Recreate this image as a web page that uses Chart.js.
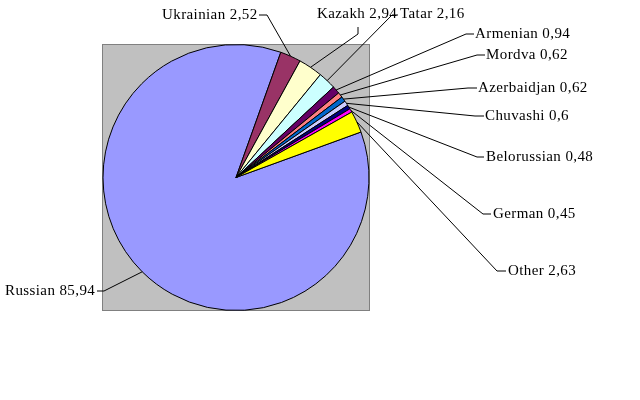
<!DOCTYPE html>
<html>
<head>
<meta charset="utf-8">
<script src="https://cdn.jsdelivr.net/npm/chart.js@4/dist/chart.umd.min.js"></script>
<style>
  html, body { margin: 0; padding: 0; background: #fff; }
  canvas { display: block; }
</style>
</head>
<body>
<canvas id="chart" width="640" height="400"></canvas>
<script>
// nationalities, % of population
const nations = ["Russian", "Ukrainian", "Kazakh", "Tatar", "Armenian", "Mordva",
  "Azerbaidjan", "Chuvashi", "Belorussian", "German", "Other"]
const shares = [85.94, 2.52, 2.94, 2.16, 0.94, 0.62, 0.62, 0.6, 0.48, 0.45, 2.63]
const sliceColors = ["#9999FF", "#993366", "#FFFFCC", "#CCFFFF", "#660066", "#FF8080",
  "#0066CC", "#CCCCFF", "#000080", "#FF00FF", "#FFFF00"]

// where each label sits and its little stub: [textX, textY, stubX0, stubY0, stubX1, stubY1]
const labelSpots = [
  [5, 291, 97, 291, 104, 291],
  [162, 15, 259, 15, 267, 15],
  [317, 14, 358, 27, 358, 34],
  [400, 14, 398, 15, 392, 15],
  [475, 34, 474, 34, 466, 34],
  [486, 55, 485, 55, 477, 55],
  [478, 88, 477, 88, 468, 88],
  [485, 116, 484, 116, 475, 116],
  [486, 157, 484, 157, 477, 157],
  [493, 214, 491, 214, 483, 214],
  [508, 271, 506, 271, 497, 271]
]

const plotBg = {
  id: "plotBg",
  beforeDraw(chart) {
    const {ctx, chartArea: a} = chart
    ctx.save()
    ctx.fillStyle = "#C0C0C0"
    ctx.fillRect(a.left, a.top, a.right - a.left, a.bottom - a.top)
    ctx.strokeStyle = "#808080"
    ctx.lineWidth = 1
    ctx.strokeRect(a.left + 0.5, a.top + 0.5, a.right - a.left - 1, a.bottom - a.top - 1)
    ctx.restore()
  }
}

const leaderLabels = {
  id: "leaderLabels",
  afterDatasetsDraw(chart) {
    const ctx = chart.ctx
    const arcs = chart.getDatasetMeta(0).data
    ctx.save()
    ctx.font = "15px 'Liberation Serif', 'Times New Roman', serif"
    ctx.letterSpacing = "0.4px"
    ctx.textBaseline = "middle"
    ctx.fillStyle = "#000"
    ctx.strokeStyle = "#000"
    ctx.lineWidth = 1
    arcs.forEach((arc, i) => {
      const p = arc.getProps(["x", "y", "startAngle", "endAngle", "outerRadius"], true)
      const mid = (p.startAngle + p.endAngle) / 2
      const ex = p.x + Math.cos(mid) * p.outerRadius
      const ey = p.y + Math.sin(mid) * p.outerRadius
      const s = labelSpots[i]
      ctx.beginPath()
      ctx.moveTo(s[2], s[3])
      ctx.lineTo(s[4], s[5])
      ctx.lineTo(ex, ey)
      ctx.stroke()
      const txt = nations[i] + " " + String(shares[i]).replace(".", ",")
      ctx.fillText(txt, s[0], s[1])
    })
    ctx.restore()
  }
}

new Chart(document.getElementById("chart"), {
  type: "pie",
  data: {
    labels: nations,
    datasets: [{
      data: shares,
      backgroundColor: sliceColors,
      borderColor: "#000",
      borderWidth: 1
    }]
  },
  options: {
    responsive: false,
    animation: false,
    rotation: 70,
    layout: { padding: { left: 102, right: 270, top: 44, bottom: 89 } },
    plugins: {
      legend: { display: false },
      tooltip: { enabled: false }
    }
  },
  plugins: [plotBg, leaderLabels]
})
</script>
</body>
</html>
